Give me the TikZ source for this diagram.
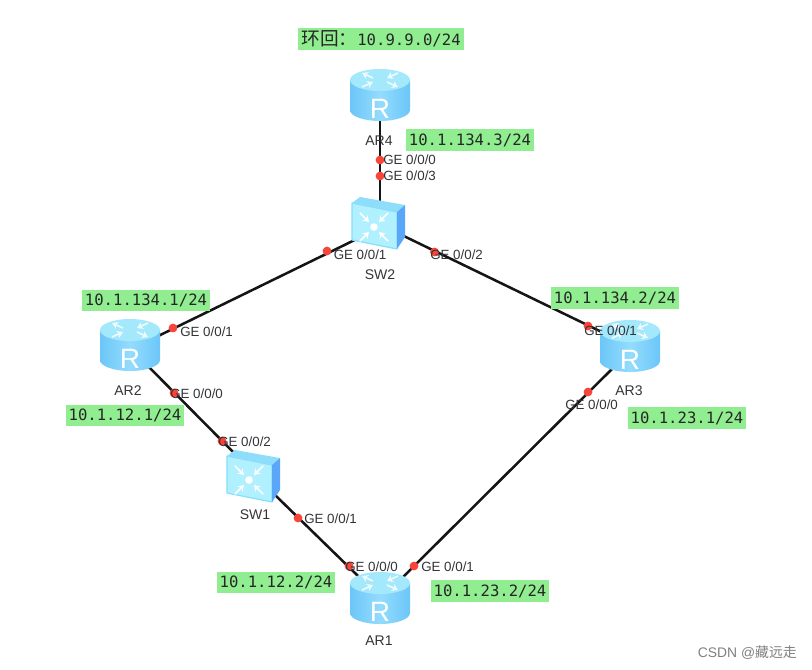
\documentclass[tikz,border=0pt]{standalone}
\usepackage{fontspec}
\setmainfont{Liberation Sans}
\newfontfamily\cjkfont{Noto Sans CJK SC}
\newfontfamily\ipfont{DejaVu Sans Mono}
\usetikzlibrary{arrows.meta}
\definecolor{lnk}{HTML}{151515}
\definecolor{dotred}{HTML}{F8453A}
\definecolor{ipgreen}{HTML}{90EE90}
\definecolor{txtgrey}{HTML}{333338}
\definecolor{bodyedge}{HTML}{6CC6F8}
\definecolor{bodymid}{HTML}{93DCFD}
\definecolor{toplight}{HTML}{A4E8FC}
\definecolor{swfront}{HTML}{B0F0FF}
\definecolor{swedge}{HTML}{84E0FC}
\definecolor{swtop}{HTML}{8EDDFB}
\definecolor{swside}{HTML}{5AA6F8}
\tikzset{
  x=0.75pt,y=-0.75pt,
  anchorbox/.style={inner sep=0pt,minimum size=1pt},
  link/.style={draw=lnk,line width=1.9pt},
  portdot/.style={circle,fill=dotred,draw=none,inner sep=0pt,minimum size=6.6pt},
  port/.style={font=\fontsize{10}{12}\selectfont,text=txtgrey,inner sep=0pt,anchor=west},
  devname/.style={font=\fontsize{10.5}{12}\selectfont,text=txtgrey,inner sep=0pt},
  iplabel/.style={fill=ipgreen,font=\ipfont\fontsize{11.7}{13}\selectfont,text=black!85,inner sep=0pt,minimum height=16.3pt},
  ipwide/.style={iplabel,minimum width=96pt},
  ipnarrow/.style={iplabel,minimum width=88.5pt},
  iconarrow/.style={draw=white,line width=1.2pt,-{Stealth[length=4.5pt,width=5.5pt]}},
  pics/routericon/.style={code={
    \path[left color=bodyedge,right color=bodyedge,middle color=bodymid]
      (-30,-15) -- (-30,15) .. controls (-30,21) and (-16.5,26) .. (0,26)
      .. controls (16.5,26) and (30,21) .. (30,15) -- (30,-15) -- cycle;
    \path[fill=toplight] (0,-15) ellipse[x radius=30,y radius=11];
    \draw[iconarrow,white!85!toplight] (-7,-17) -- (-18,-22);
    \draw[iconarrow,white!85!toplight] (18,-22) -- (7,-17);
    \draw[iconarrow,white!85!toplight] (7,-13) -- (18,-8);
    \draw[iconarrow,white!85!toplight] (-18,-8) -- (-7,-13);
    \node[text=white,font=\fontsize{21}{21}\selectfont,inner sep=0pt] at (0,13.5) {R};
  }},
  pics/switchicon/.style={code={
    \path[fill=swfront,draw=swedge,line width=0.9pt,line join=round] (-26,-20) -- (19,-11) -- (19,26) -- (-26,17) -- cycle;
    \path[fill=swtop] (-26,-20) -- (-18,-26) -- (27,-18) -- (19,-11) -- cycle;
    \path[fill=swside] (19,-11) -- (27,-18) -- (27,14) -- (19,26) -- cycle;
    \fill[white] (-4,4) circle[radius=3.8];
    \foreach \a in {45,135,225,315}{
      \begin{scope}[shift={(-4,4)}]
        \draw[iconarrow] (\a:20) -- (\a:7);
      \end{scope}
    }
  }}
}
\begin{document}
\begin{tikzpicture}
\useasboundingbox (0,0) rectangle (812,669);
% device anchors
\node[anchorbox] (ar4) at (380,95) {};
\node[anchorbox] (sw2) at (378,223) {};
\node[anchorbox] (ar2) at (130,345) {};
\node[anchorbox] (ar3) at (630,346) {};
\node[anchorbox] (sw1) at (253,476) {};
\node[anchorbox] (ar1) at (380,598) {};
% link ends, hidden under the icons
\coordinate (l4a) at (380,110);
\coordinate (l4b) at (380,215);
\coordinate (l2a) at (370,232.5);
\coordinate (l2b) at (150,340);
\coordinate (r2a) at (385,226.9);
\coordinate (r3a) at (610,336);
\coordinate (c2a) at (140,358);
\coordinate (c1a) at (245,464);
\coordinate (c1b) at (262,482.3);
\coordinate (a1a) at (368,585.7);
\coordinate (a1b) at (395,585);
\coordinate (a3b) at (620,361);
% links
\draw[link] (l4a) -- (l4b);
\draw[link] (l2a) -- (l2b);
\draw[link] (r2a) -- (r3a);
\draw[link] (c2a) -- (c1a);
\draw[link] (c1b) -- (a1a);
\draw[link] (a1b) -- (a3b);
% icons
\pic at (ar4) {routericon};
\pic at (ar2) {routericon};
\pic at (ar3) {routericon};
\pic at (ar1) {routericon};
\pic at (sw2) {switchicon};
\pic at (sw1) {switchicon};
% port dots
\node[portdot] (d1) at (380,160) {};
\node[portdot] (d2) at (380,176) {};
\node[portdot] (d3) at (327,251) {};
\node[portdot] (d4) at (434.5,252) {};
\node[portdot] (d5) at (173,328) {};
\node[portdot] (d6) at (174,393) {};
\node[portdot] (d7) at (222,441) {};
\node[portdot] (d8) at (298,518) {};
\node[portdot] (d9) at (349,566) {};
\node[portdot] (d10) at (414,566) {};
\node[portdot] (d11) at (588,326) {};
\node[portdot] (d12) at (588,392) {};
% port labels
\node[port] (p1) at (383,160) {GE 0/0/0};
\node[port] (p2) at (383,176) {GE 0/0/3};
\node[port] (p3) at (333.5,255) {GE 0/0/1};
\node[port] (p4) at (430,255) {GE 0/0/2};
\node[port] (p5) at (180,332) {GE 0/0/1};
\node[port] (p6) at (170,394) {GE 0/0/0};
\node[port] (p7) at (218,442) {GE 0/0/2};
\node[port] (p8) at (304,519) {GE 0/0/1};
\node[port] (p9) at (345,567) {GE 0/0/0};
\node[port] (p10) at (421,567) {GE 0/0/1};
\node[port] (p11) at (584,331) {GE 0/0/1};
\node[port] (p12) at (565,405) {GE 0/0/0};
% device names
\node[devname] (n4) at (379,141) {AR4};
\node[devname] (n5) at (380,275) {SW2};
\node[devname] (n2) at (128,391) {AR2};
\node[devname] (n3) at (629,391) {AR3};
\node[devname] (n6) at (255,515) {SW1};
\node[devname] (n1) at (379,641) {AR1};
% addresses
\node[iplabel,minimum width=124.5pt] (loop) at (381,39) {{\cjkfont\fontsize{14}{14}\selectfont 环回：}10.9.9.0/24};
\node[ipwide] (i1) at (470,140) {10.1.134.3/24};
\node[ipwide] (i2) at (146,300.5) {10.1.134.1/24};
\node[ipwide] (i3) at (615,298) {10.1.134.2/24};
\node[ipnarrow] (i4) at (125,415.5) {10.1.12.1/24};
\node[ipnarrow] (i5) at (687,418) {10.1.23.1/24};
\node[ipnarrow] (i6) at (276,582.5) {10.1.12.2/24};
\node[ipnarrow] (i7) at (490,591) {10.1.23.2/24};
% watermark
\node[anchor=east,inner sep=0pt,text=black!50,font=\fontsize{10.4}{12}\selectfont] (wm) at (797,653) {CSDN @{\cjkfont 藏远走}};
\end{tikzpicture}
\end{document}
